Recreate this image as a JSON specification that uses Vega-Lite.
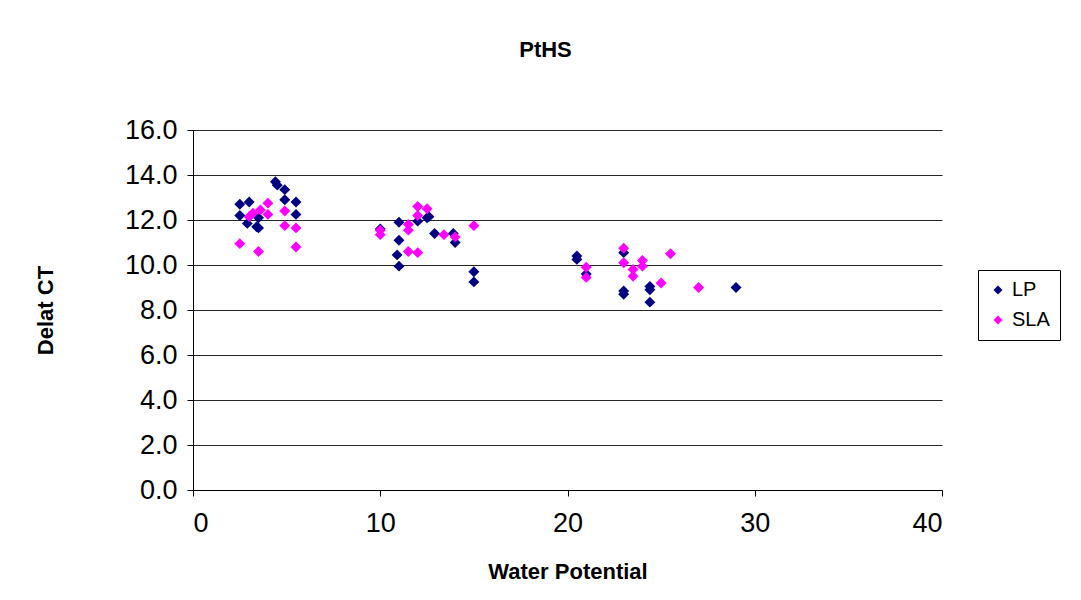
{
  "$schema": "https://vega.github.io/schema/vega-lite/v6.json",
  "autosize": {"type": "none"},
  "padding": {"left": 193, "top": 130, "right": 139, "bottom": 110},
  "width": 749,
  "height": 360,
  "background": "white",
  "title": {"text": "PtHS", "font": "Liberation Sans", "fontSize": 22, "fontWeight": "bold", "color": "black", "offset": 54, "dx": -22},
  "data": {"values": [
    {"x": 2.5, "y": 12.7, "s": "LP"}, {"x": 2.5, "y": 12.2, "s": "LP"}, {"x": 3.0, "y": 12.8, "s": "LP"},
    {"x": 2.9, "y": 11.85, "s": "LP"}, {"x": 3.5, "y": 12.1, "s": "LP"}, {"x": 3.4, "y": 11.7, "s": "LP"},
    {"x": 3.5, "y": 11.65, "s": "LP"}, {"x": 4.4, "y": 13.7, "s": "LP"}, {"x": 4.5, "y": 13.55, "s": "LP"},
    {"x": 4.9, "y": 13.35, "s": "LP"}, {"x": 4.9, "y": 12.9, "s": "LP"}, {"x": 5.5, "y": 12.8, "s": "LP"},
    {"x": 5.5, "y": 12.25, "s": "LP"},
    {"x": 10.0, "y": 11.6, "s": "LP"}, {"x": 11.0, "y": 11.9, "s": "LP"}, {"x": 11.0, "y": 11.1, "s": "LP"},
    {"x": 10.9, "y": 10.45, "s": "LP"}, {"x": 11.0, "y": 9.95, "s": "LP"}, {"x": 12.0, "y": 11.95, "s": "LP"},
    {"x": 12.5, "y": 12.1, "s": "LP"}, {"x": 12.6, "y": 12.15, "s": "LP"}, {"x": 12.9, "y": 11.4, "s": "LP"},
    {"x": 13.9, "y": 11.4, "s": "LP"}, {"x": 14.0, "y": 11.0, "s": "LP"}, {"x": 15.0, "y": 9.7, "s": "LP"},
    {"x": 15.0, "y": 9.25, "s": "LP"},
    {"x": 20.5, "y": 10.4, "s": "LP"}, {"x": 20.5, "y": 10.25, "s": "LP"}, {"x": 21.0, "y": 9.6, "s": "LP"},
    {"x": 23.0, "y": 10.55, "s": "LP"}, {"x": 23.0, "y": 8.85, "s": "LP"}, {"x": 23.0, "y": 8.7, "s": "LP"},
    {"x": 24.4, "y": 9.05, "s": "LP"}, {"x": 24.4, "y": 8.9, "s": "LP"}, {"x": 24.4, "y": 8.35, "s": "LP"},
    {"x": 29.0, "y": 9.0, "s": "LP"},
    {"x": 2.5, "y": 10.95, "s": "SLA"}, {"x": 3.5, "y": 10.6, "s": "SLA"}, {"x": 5.5, "y": 10.8, "s": "SLA"},
    {"x": 4.0, "y": 12.75, "s": "SLA"}, {"x": 3.6, "y": 12.45, "s": "SLA"}, {"x": 3.0, "y": 12.15, "s": "SLA"},
    {"x": 3.2, "y": 12.3, "s": "SLA"}, {"x": 4.0, "y": 12.25, "s": "SLA"}, {"x": 4.9, "y": 12.4, "s": "SLA"},
    {"x": 4.9, "y": 11.75, "s": "SLA"}, {"x": 5.5, "y": 11.65, "s": "SLA"},
    {"x": 10.0, "y": 11.55, "s": "SLA"}, {"x": 10.0, "y": 11.35, "s": "SLA"}, {"x": 11.5, "y": 11.8, "s": "SLA"},
    {"x": 11.5, "y": 11.55, "s": "SLA"}, {"x": 12.0, "y": 12.6, "s": "SLA"}, {"x": 12.5, "y": 12.5, "s": "SLA"},
    {"x": 12.0, "y": 12.2, "s": "SLA"}, {"x": 11.5, "y": 10.6, "s": "SLA"}, {"x": 12.0, "y": 10.55, "s": "SLA"},
    {"x": 13.4, "y": 11.35, "s": "SLA"}, {"x": 14.0, "y": 11.25, "s": "SLA"}, {"x": 15.0, "y": 11.75, "s": "SLA"},
    {"x": 21.0, "y": 9.9, "s": "SLA"}, {"x": 21.0, "y": 9.45, "s": "SLA"}, {"x": 23.0, "y": 10.75, "s": "SLA"},
    {"x": 23.0, "y": 10.1, "s": "SLA"}, {"x": 23.5, "y": 9.8, "s": "SLA"}, {"x": 23.5, "y": 9.5, "s": "SLA"},
    {"x": 24.0, "y": 10.2, "s": "SLA"}, {"x": 24.0, "y": 9.95, "s": "SLA"}, {"x": 25.0, "y": 9.2, "s": "SLA"},
    {"x": 25.5, "y": 10.5, "s": "SLA"}, {"x": 27.0, "y": 9.0, "s": "SLA"}
  ]},
  "mark": {"type": "point", "shape": "diamond", "filled": true, "size": 120, "opacity": 1},
  "encoding": {
    "x": {"field": "x", "type": "quantitative", "scale": {"domain": [0, 40], "nice": false, "zero": true},
      "axis": {"title": "Water Potential", "values": [0, 10, 20, 30, 40], "grid": false, "titleFont": "Liberation Sans", "titleFontSize": 22, "titleFontWeight": "bold", "titleColor": "black", "titlePadding": 25, "labelFont": "Liberation Sans", "labelFontSize": 27, "labelColor": "black", "labelPadding": 14, "domainColor": "black", "tickColor": "black", "tickSize": 6}},
    "y": {"field": "y", "type": "quantitative", "scale": {"domain": [0, 16], "nice": false},
      "axis": {"title": "Delat CT", "values": [0, 2, 4, 6, 8, 10, 12, 14, 16], "format": ".1f", "grid": true, "gridColor": "black", "gridOpacity": 0.85, "titleFont": "Liberation Sans", "titleFontSize": 22, "titleFontWeight": "bold", "titleColor": "black", "titlePadding": 67, "labelFont": "Liberation Sans", "labelFontSize": 27, "labelColor": "black", "labelPadding": 10, "domainColor": "black", "tickColor": "black", "tickSize": 6}},
    "color": {"field": "s", "type": "nominal", "scale": {"domain": ["LP", "SLA"], "range": ["#000080", "#FF00FF"]},
      "legend": {"title": null, "orient": "none", "legendX": 785, "legendY": 140, "strokeColor": "black", "padding": 10, "labelFont": "Liberation Sans", "labelFontSize": 20, "labelColor": "black", "symbolSize": 80, "symbolType": "diamond", "rowPadding": 10}}
  },
  "config": {"view": {"stroke": null}}
}
